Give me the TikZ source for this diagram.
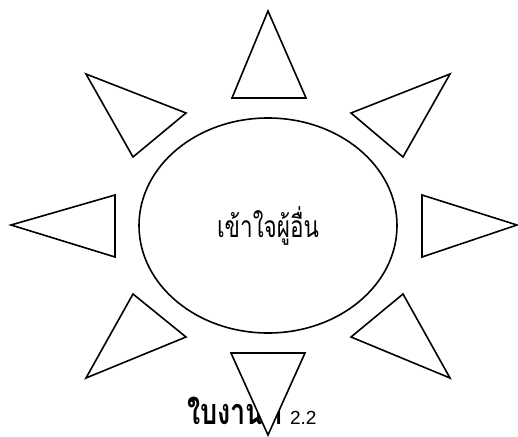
\documentclass[tikz,border=0pt]{standalone}
\usepackage{fontspec}
\setmainfont{Liberation Sans}
\newfontfamily\thaifont[Script=Thai, FakeStretch=0.75]{Loma}
\usetikzlibrary{shapes.geometric}

\begin{document}
\begin{tikzpicture}[
  x=1pt, y=-1pt,
  ray/.style={draw=black, line width=1.6pt, fill=white, line join=miter},
  core/.style={ellipse, draw=black, line width=1.6pt, inner sep=0pt,
               minimum width=258pt, minimum height=215pt,
               font=\thaifont\fontsize{30}{34}\selectfont}
]
  \useasboundingbox (0,0) rectangle (518,436);

  \node[core] (heart) at (268,225.5) {เข้าใจผู้อื่น};

  % caption, partly hidden by the bottom ray
  \node[anchor=base west, inner sep=0pt] (caption) at (187,424)
    {{\thaifont\bfseries\fontsize{36}{40}\selectfont ใบงานที่}\hspace{8pt}\fontsize{19}{21}\selectfont 2.2};

  % rays round the ellipse
  \draw[ray] (268,11)  -- (232,98)  -- (306,98)  -- cycle;
  \draw[ray] (231,353) -- (305,353) -- (268,435) -- cycle;
  \draw[ray] (11,225)  -- (115,195) -- (115,257) -- cycle;
  \draw[ray] (517,225) -- (422,195) -- (422,257) -- cycle;
  \draw[ray] (86,74)   -- (186,113) -- (133,157) -- cycle;
  \draw[ray] (450,74)  -- (351,113) -- (403,157) -- cycle;
  \draw[ray] (86,378)  -- (186,337) -- (133,294) -- cycle;
  \draw[ray] (450,378) -- (351,337) -- (403,294) -- cycle;
\end{tikzpicture}
\end{document}
